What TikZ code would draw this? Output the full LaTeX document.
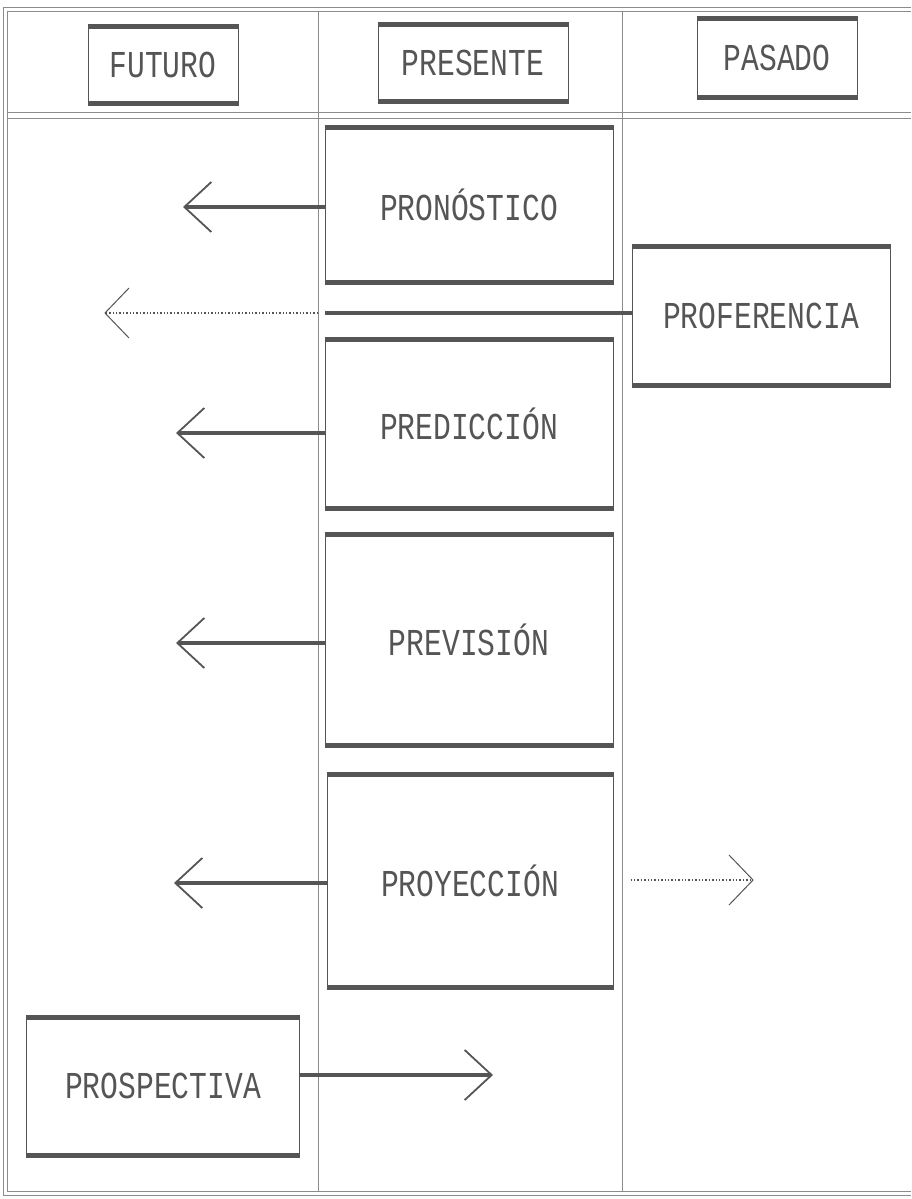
\documentclass[tikz,border=0pt]{standalone}
\usepackage{fontspec}
\usepackage{tikz}
\usetikzlibrary{arrows.meta,positioning}
\newfontfamily\plotfont[FakeStretch=0.78]{Liberation Mono}
\definecolor{tinta}{HTML}{555555}
\definecolor{trazo}{HTML}{8C8C8C}

\tikzset{
	caja/.style={draw=tinta, line width=1pt, inner sep=0pt, text=tinta,
		font=\plotfont\fontsize{38}{40}\selectfont,
		append after command={
			(\tikzlastnode.north west) edge[tinta, line width=5pt] (\tikzlastnode.north east)
			(\tikzlastnode.south west) edge[tinta, line width=5pt] (\tikzlastnode.south east)}},
	flecha/.style={tinta, line width=4pt, -{Straight Barb[length=27pt, width=50pt, line width=1.8pt]}},
	punteada/.style={tinta, line width=1.4pt, dotted, -{Straight Barb[length=24pt, width=50pt, line width=1pt, sep]}},
	marco/.style={trazo, line width=1pt},
}

\begin{document}
\begin{tikzpicture}[x=1pt, y=-1pt]
	\useasboundingbox (0,0) rectangle (911,1199);
	
	% marco y columnas
	\draw[marco] (3,8) -- (911,8);
	\draw[marco] (7,12) -- (911,12);
	\draw[marco] (7,112) -- (911,112);
	\draw[marco] (7,118) -- (911,118);
	\draw[marco] (7,1191) -- (911,1191);
	\draw[marco] (3,1195) -- (911,1195);
	\draw[marco] (3,8) -- (3,1195);
	\draw[marco] (7,12) -- (7,1191);
	\draw[marco] (318,12) -- (318,1191);
	\draw[marco] (622,12) -- (622,1191);
	
	% cabecera
	\node[caja, minimum width=150pt, minimum height=76pt] (futuro) at (163,65) {FUTURO};
	\node[caja, minimum width=190pt, minimum height=76pt] (presente) at (473,63) {PRESENTE};
	\node[caja, minimum width=160pt, minimum height=77pt] (pasado) at (777,58) {PASADO};
	
	% conceptos
	\node[caja, minimum width=288pt, minimum height=154pt] (pronostico) at (469,205) {PRONÓSTICO};
	\node[caja, minimum width=258pt, minimum height=138pt] (proferencia) at (761,316) {PROFERENCIA};
	\node[caja, minimum width=288pt, minimum height=168pt] (prediccion) at (469,424) {PREDICCIÓN};
	\node[caja, minimum width=288pt, minimum height=210pt] (prevision) at (469,640) {PREVISIÓN};
	\node[caja, minimum width=286pt, minimum height=212pt] (proyeccion) at (470,881) {PROYECCIÓN};
	\node[caja, minimum width=273pt, minimum height=137pt] (prospectiva) at (163,1086) {PROSPECTIVA};
	
	\coordinate (fpron) at (183,207);
	\coordinate (corte) at (325,313);
	\coordinate (fprof) at (103,313);
	\coordinate (fpred) at (176,433);
	\coordinate (fprev) at (176,643);
	\coordinate (fproy) at (174,883);
	\coordinate (pproy) at (755,880);
	\coordinate (fpros) at (493,1075);
	
	\path [flecha] (pronostico.west |- fpron) edge (fpron);
	\path [tinta, line width=4pt] (proferencia.west |- corte) edge (corte);
	\path [punteada] ([xshift=-7pt]corte) edge (fprof);
	\path [flecha] (prediccion.west |- fpred) edge (fpred);
	\path [flecha] (prevision.west |- fprev) edge (fprev);
	\path [flecha] (proyeccion.west |- fproy) edge (fproy);
	\path [punteada] ([xshift=17pt]proyeccion.east |- pproy) edge (pproy);
	\path [flecha] (prospectiva.east |- fpros) edge (fpros);
\end{tikzpicture}
\end{document}
